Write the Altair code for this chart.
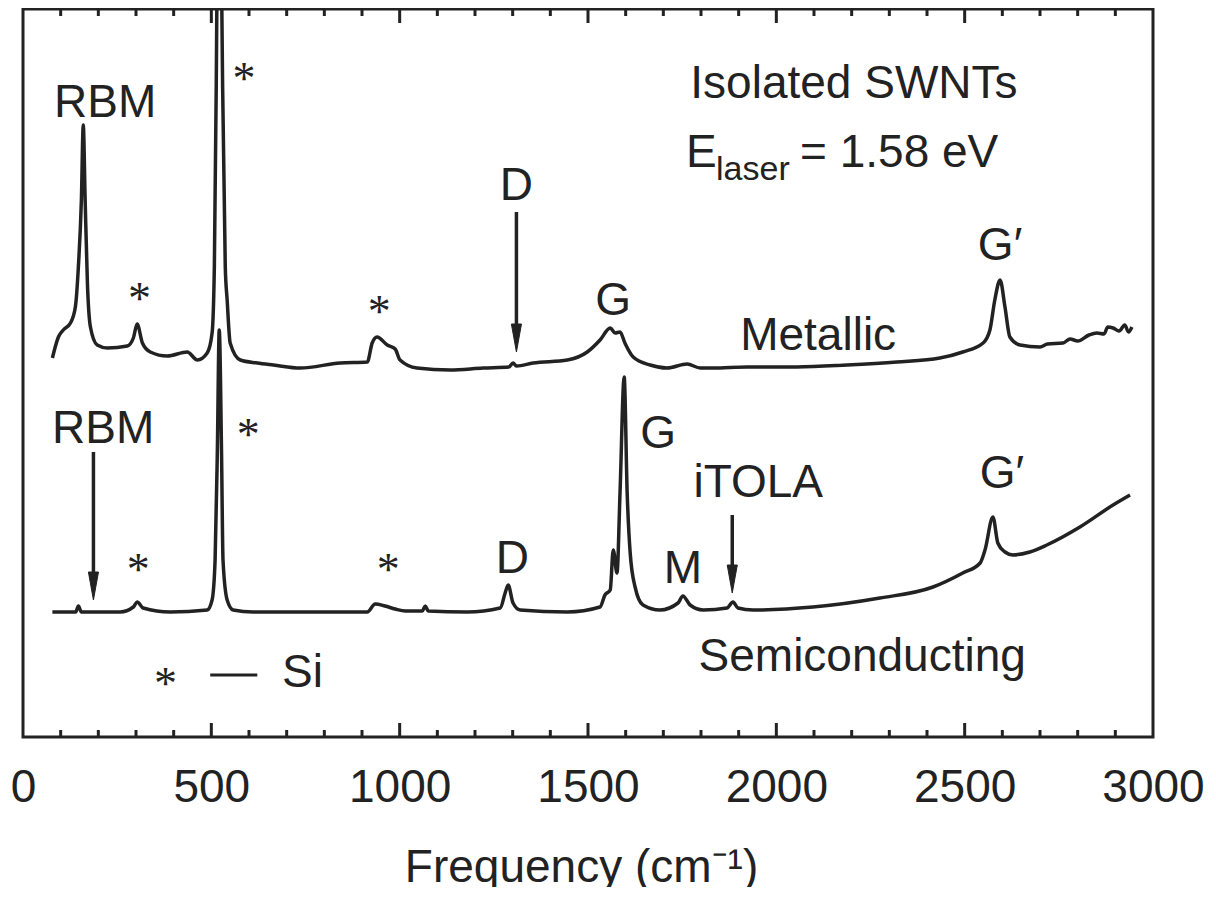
import altair as alt
import pandas as pd

# ---------------- data (intensity in arbitrary units) ----------------
metal_freq = [78, 94, 107, 126, 139, 147, 155, 160, 165, 171, 179, 197, 224, 277, 293, 303, 317, 338,
              383, 436, 463, 489, 502, 508, 513, 516, 521, 526, 530, 537, 542, 550, 577, 622, 665,
              736, 842, 914, 927, 940, 967, 988, 1001, 1046, 1134, 1222, 1290, 1301, 1310, 1354,
              1445, 1498, 1532, 1559, 1572, 1585, 1598, 1620, 1665, 1710, 1763, 1798, 1832, 1922,
              2055, 2188, 2320, 2434, 2495, 2549, 2567, 2580, 2594, 2607, 2620, 2647, 2700, 2720,
              2761, 2780, 2800, 2830, 2851, 2870, 2880, 2894, 2910, 2925, 2935, 2944]
metal_int = [379, 400, 407, 414, 430, 470, 537, 612, 537, 454, 410, 392, 389, 391, 399, 413, 394, 385,
             381, 385, 377, 384, 404, 470, 650, 800, 1000, 800, 650, 470, 437, 394, 377, 374, 372,
             369, 374, 375, 394, 400, 392, 388, 377, 369, 367, 369, 370, 374, 371, 374,
             377, 385, 397, 409, 404, 405, 394, 380, 372, 369, 373, 369, 369, 370,
             370, 372, 375, 379, 385, 394, 407, 437, 457, 430, 400, 392, 390, 393,
             394, 398, 396, 402, 404, 403, 410, 409, 406, 412, 405, 410]

semi_freq = [78, 140, 147, 155, 171, 258, 293, 303, 319, 391, 489, 502, 510, 516, 521, 527, 531, 542,
             558, 611, 789, 914, 935, 961, 988, 1015, 1060, 1068, 1076, 1179, 1267, 1280, 1288,
             1301, 1320, 1445, 1532, 1545, 1559, 1567, 1577, 1585, 1596, 1604, 1612, 1625, 1646,
             1691, 1739, 1752, 1771, 1806, 1869, 1885, 1898, 1938, 2097, 2275, 2416, 2495, 2541,
             2554, 2575, 2588, 2607, 2628, 2673, 2718, 2806, 2894, 2939]
semi_int = [125, 125, 131, 125, 125, 125, 130, 135, 129, 125, 127, 137, 177, 287, 407, 287, 177, 137,
            127, 125, 125, 125, 133, 131, 128, 126, 126, 131, 126, 125, 129, 144, 152,
            134, 127, 125, 130, 142, 147, 187, 164, 244, 360, 244, 184, 150, 132,
            127, 134, 141, 132, 127, 129, 135, 129, 127, 130, 139, 150, 164, 174,
            187, 220, 194, 185, 182, 185, 192, 210, 232, 242]

x_labels = [0, 500, 1000, 1500, 2000, 2500, 3000]
major_ticks = [500, 1000, 1500, 2000, 2500]
minor_ticks = [v for v in range(100, 3000, 100) if v % 500 != 0]

# annotation text (sans, centred)
lab_text = ["RBM", "RBM", "D", "G", "G\u2032", "Metallic", "Isolated SWNTs", "G", "iTOLA",
            "D", "M", "G\u2032", "Semiconducting", "Si"]
lab_freq = [218, 213, 1310, 1567, 2594, 2111, 2206, 1686, 1952, 1299, 1752, 2599, 2228, 742]
lab_int = [620, 294, 537, 422, 477, 387, 639, 289, 240, 164, 154, 249, 66, 50]

# E_laser line (left aligned pieces)
e_text = ["E", "= 1.58 eV"]
e_freq = [1760, 2063]
e_int = [570, 570]
sub_text = ["laser"]
sub_freq = [1840]
sub_int = [557]

# Si markers
star_freq = [587, 309, 946, 598, 306, 970, 378]
star_int = [643, 423, 410, 287, 152, 152, 38]

# arrows: x, top of shaft, tip
arrow_freq = [1310, 187, 1883]
arrow_top = [525, 285, 222]
arrow_tip = [385, 137, 144]

# legend dash
dash_f = [497]
dash_f2 = [622]
dash_v = [62]

# ---------------- build ----------------
INK = "#222222"
FONT = "Liberation Sans"
XMAX, YMAX = 3000, 728

xs = alt.Scale(domain=[0, XMAX], nice=False, zero=False)
ys = alt.Scale(domain=[0, YMAX], nice=False, zero=False)
xaxis = alt.Axis(values=x_labels, format="d", labelFontSize=46, labelFont=FONT, labelColor=INK,
                 labelPadding=28, ticks=False, tickSize=0, domain=False, grid=False,
                 labelFlush=False, labelOverlap=False,
                 title="Frequency (cm\u207b\u00b9)", titleFontSize=46, titleFont=FONT,
                 titleFontWeight="normal", titleColor=INK, titleY=144, titleX=558,
                 titleBaseline="alphabetic")
X = alt.X("f:Q", scale=xs, axis=xaxis)
Y = alt.Y("v:Q", scale=ys, axis=None)

metal_df = pd.DataFrame({"f": metal_freq, "v": metal_int})
semi_df = pd.DataFrame({"f": semi_freq, "v": semi_int})

metal = alt.Chart(metal_df).mark_line(color=INK, strokeWidth=3.5, clip=True, interpolate="monotone",
                                      strokeJoin="round").encode(x=X, y=Y)
semi = alt.Chart(semi_df).mark_line(color=INK, strokeWidth=3.5, clip=True, interpolate="monotone",
                                    strokeJoin="round").encode(x=X, y=Y)

# inward ticks
tk = []
for v in major_ticks:
    tk.append({"f": v, "v": 0, "v2": 14})
    tk.append({"f": v, "v": YMAX, "v2": YMAX - 14})
for v in minor_ticks:
    tk.append({"f": v, "v": 0, "v2": 7})
    tk.append({"f": v, "v": YMAX, "v2": YMAX - 7})
ticks = alt.Chart(pd.DataFrame(tk)).mark_rule(color=INK, strokeWidth=3).encode(
    x=X, y=Y, y2="v2:Q")

labels = alt.Chart(pd.DataFrame({"f": lab_freq, "v": lab_int, "t": lab_text})).mark_text(
    font=FONT, fontSize=46, color=INK, align="center", baseline="alphabetic").encode(
    x=X, y=Y, text="t:N")
elab = alt.Chart(pd.DataFrame({"f": e_freq, "v": e_int, "t": e_text})).mark_text(
    font=FONT, fontSize=46, color=INK, align="left", baseline="alphabetic").encode(
    x=X, y=Y, text="t:N")
sub = alt.Chart(pd.DataFrame({"f": sub_freq, "v": sub_int, "t": sub_text})).mark_text(
    font=FONT, fontSize=34, color=INK, align="left", baseline="alphabetic").encode(
    x=X, y=Y, text="t:N")
stars = alt.Chart(pd.DataFrame({"f": star_freq, "v": star_int, "t": ["*"] * len(star_freq)})).mark_text(
    font="Liberation Serif", fontSize=46, color=INK, align="center", baseline="alphabetic").encode(
    x=X, y=Y, text="t:N")

arr_df = pd.DataFrame({"f": arrow_freq, "v": arrow_top,
                       "v2": [t + 20 for t in arrow_tip],
                       "h": [t + 14 for t in arrow_tip]})
shafts = alt.Chart(arr_df).mark_rule(color=INK, strokeWidth=3.5).encode(x=X, y=Y, y2="v2:Q")
heads = alt.Chart(arr_df).mark_point(shape="M-0.36,-1L0.36,-1L0,1Z", size=784, filled=True,
                                     fill=INK, stroke=INK, strokeWidth=1, opacity=1).encode(
    x=X, y=alt.Y("h:Q", scale=ys, axis=None))

dash = alt.Chart(pd.DataFrame({"f": dash_f, "f2": dash_f2, "v": dash_v})).mark_rule(
    color=INK, strokeWidth=3).encode(x=X, x2="f2:Q", y=Y)

chart = alt.layer(metal, semi, ticks, labels, elab, sub, stars, shafts, heads, dash).properties(
    width=1130, height=728,
    autosize=alt.AutoSizeParams(type="none"),
    padding={"left": 15, "top": 1, "right": 55, "bottom": 150},
    background="white",
).configure_view(stroke=INK, strokeWidth=3)

chart.save("out.html", embed_options={"renderer": "svg", "actions": False})
